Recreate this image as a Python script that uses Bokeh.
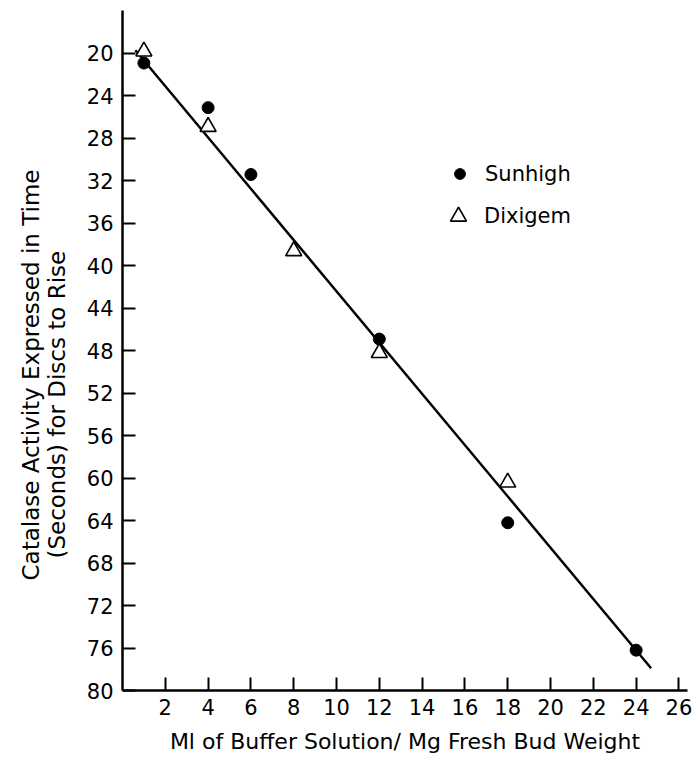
from bokeh.plotting import figure
from bokeh.models import Range1d, FixedTicker, Title, Legend, LegendItem
from bokeh.embed import file_html
from bokeh.resources import INLINE

# ---- data ----
sunhigh_x = [1, 4, 6, 12, 18, 24]
sunhigh_y = [20.9, 25.1, 31.4, 46.9, 64.2, 76.2]
dixigem_x = [1, 4, 8, 12, 18]
dixigem_y = [19.8, 26.9, 38.6, 48.2, 60.4]
fit_x = [0.6, 24.7]
fit_y = [19.7, 77.9]
x_ticks = [2, 4, 6, 8, 10, 12, 14, 16, 18, 20, 22, 24, 26]
y_ticks = [20, 24, 28, 32, 36, 40, 44, 48, 52, 56, 60, 64, 68, 72, 76, 80]
x_title = "Ml of Buffer Solution/ Mg Fresh Bud Weight"
y_title_1 = "Catalase Activity Expressed in Time"
y_title_2 = "(Seconds) for Discs to Rise"
series_names = ["Sunhigh", "Dixigem"]

FONT = "DejaVu Sans"

p = figure(frame_width=565, frame_height=680,
           x_range=Range1d(0, 26.4), y_range=Range1d(80, 15.95),
           output_backend="svg", toolbar_location=None,
           min_border_left=122, min_border_right=8, min_border_top=10,
           min_border_bottom=40)
p.outline_line_color = None
p.grid.visible = False
p.background_fill_color = "white"
p.border_fill_color = "white"

for ax in (p.xaxis[0], p.yaxis[0]):
    ax.axis_line_width = 2.5
    ax.axis_line_color = "black"
    ax.major_tick_line_width = 2
    ax.major_tick_line_color = "black"
    ax.major_tick_in = 13
    ax.major_tick_out = 0
    ax.minor_tick_line_color = None
    ax.major_label_text_font = FONT
    ax.major_label_text_font_size = "21px"
    ax.major_label_text_color = "black"

p.xaxis.ticker = FixedTicker(ticks=x_ticks)
p.yaxis.ticker = FixedTicker(ticks=y_ticks)
p.xaxis.major_label_standoff = 8
p.yaxis.major_label_standoff = 9
p.xaxis.axis_label = x_title
p.xaxis.axis_label_text_font = FONT
p.xaxis.axis_label_text_font_size = "22px"
p.xaxis.axis_label_text_font_style = "normal"
p.xaxis.axis_label_text_color = "black"
p.xaxis.axis_label_standoff = 11

# y-axis title: one two-line side title; second line starts a little higher
y_title = Title(text=y_title_1 + "\n" + "\u00a0\u00a0\u00a0" + y_title_2,
                align="left", offset=110, standoff=27,
                text_font=FONT, text_font_size="23px",
                text_font_style="normal", text_line_height=1.0,
                text_color="black")
p.add_layout(y_title, "left")

# fitted line
p.line(fit_x, fit_y, line_color="black", line_width=2.5)

# points
r_sun = p.scatter(sunhigh_x, sunhigh_y, marker="circle", size=12,
                  fill_color="black", line_color="black")
r_dix = p.scatter(dixigem_x, dixigem_y, marker="triangle", size=16,
                  fill_color="white", line_color="black", line_width=1.6)

def make_legend(item, box, loc, standoff):
    lg = Legend(items=[item], location=loc, orientation="vertical")
    lg.glyph_width = box
    lg.glyph_height = box
    lg.label_height = box
    lg.padding = 0
    lg.margin = 0
    lg.spacing = 0
    lg.label_standoff = standoff
    lg.label_text_font = FONT
    lg.label_text_font_size = "21px"
    lg.label_text_color = "black"
    lg.label_text_baseline = "middle"
    lg.border_line_color = None
    lg.background_fill_alpha = 0
    return lg

p.add_layout(make_legend(LegendItem(label=series_names[0], renderers=[r_sun]),
                         27, (324, 503), 12))
p.add_layout(make_legend(LegendItem(label=series_names[1], renderers=[r_dix]),
                         40, (316, 454), 6))

open("out.html", "w").write(file_html(p, INLINE))
